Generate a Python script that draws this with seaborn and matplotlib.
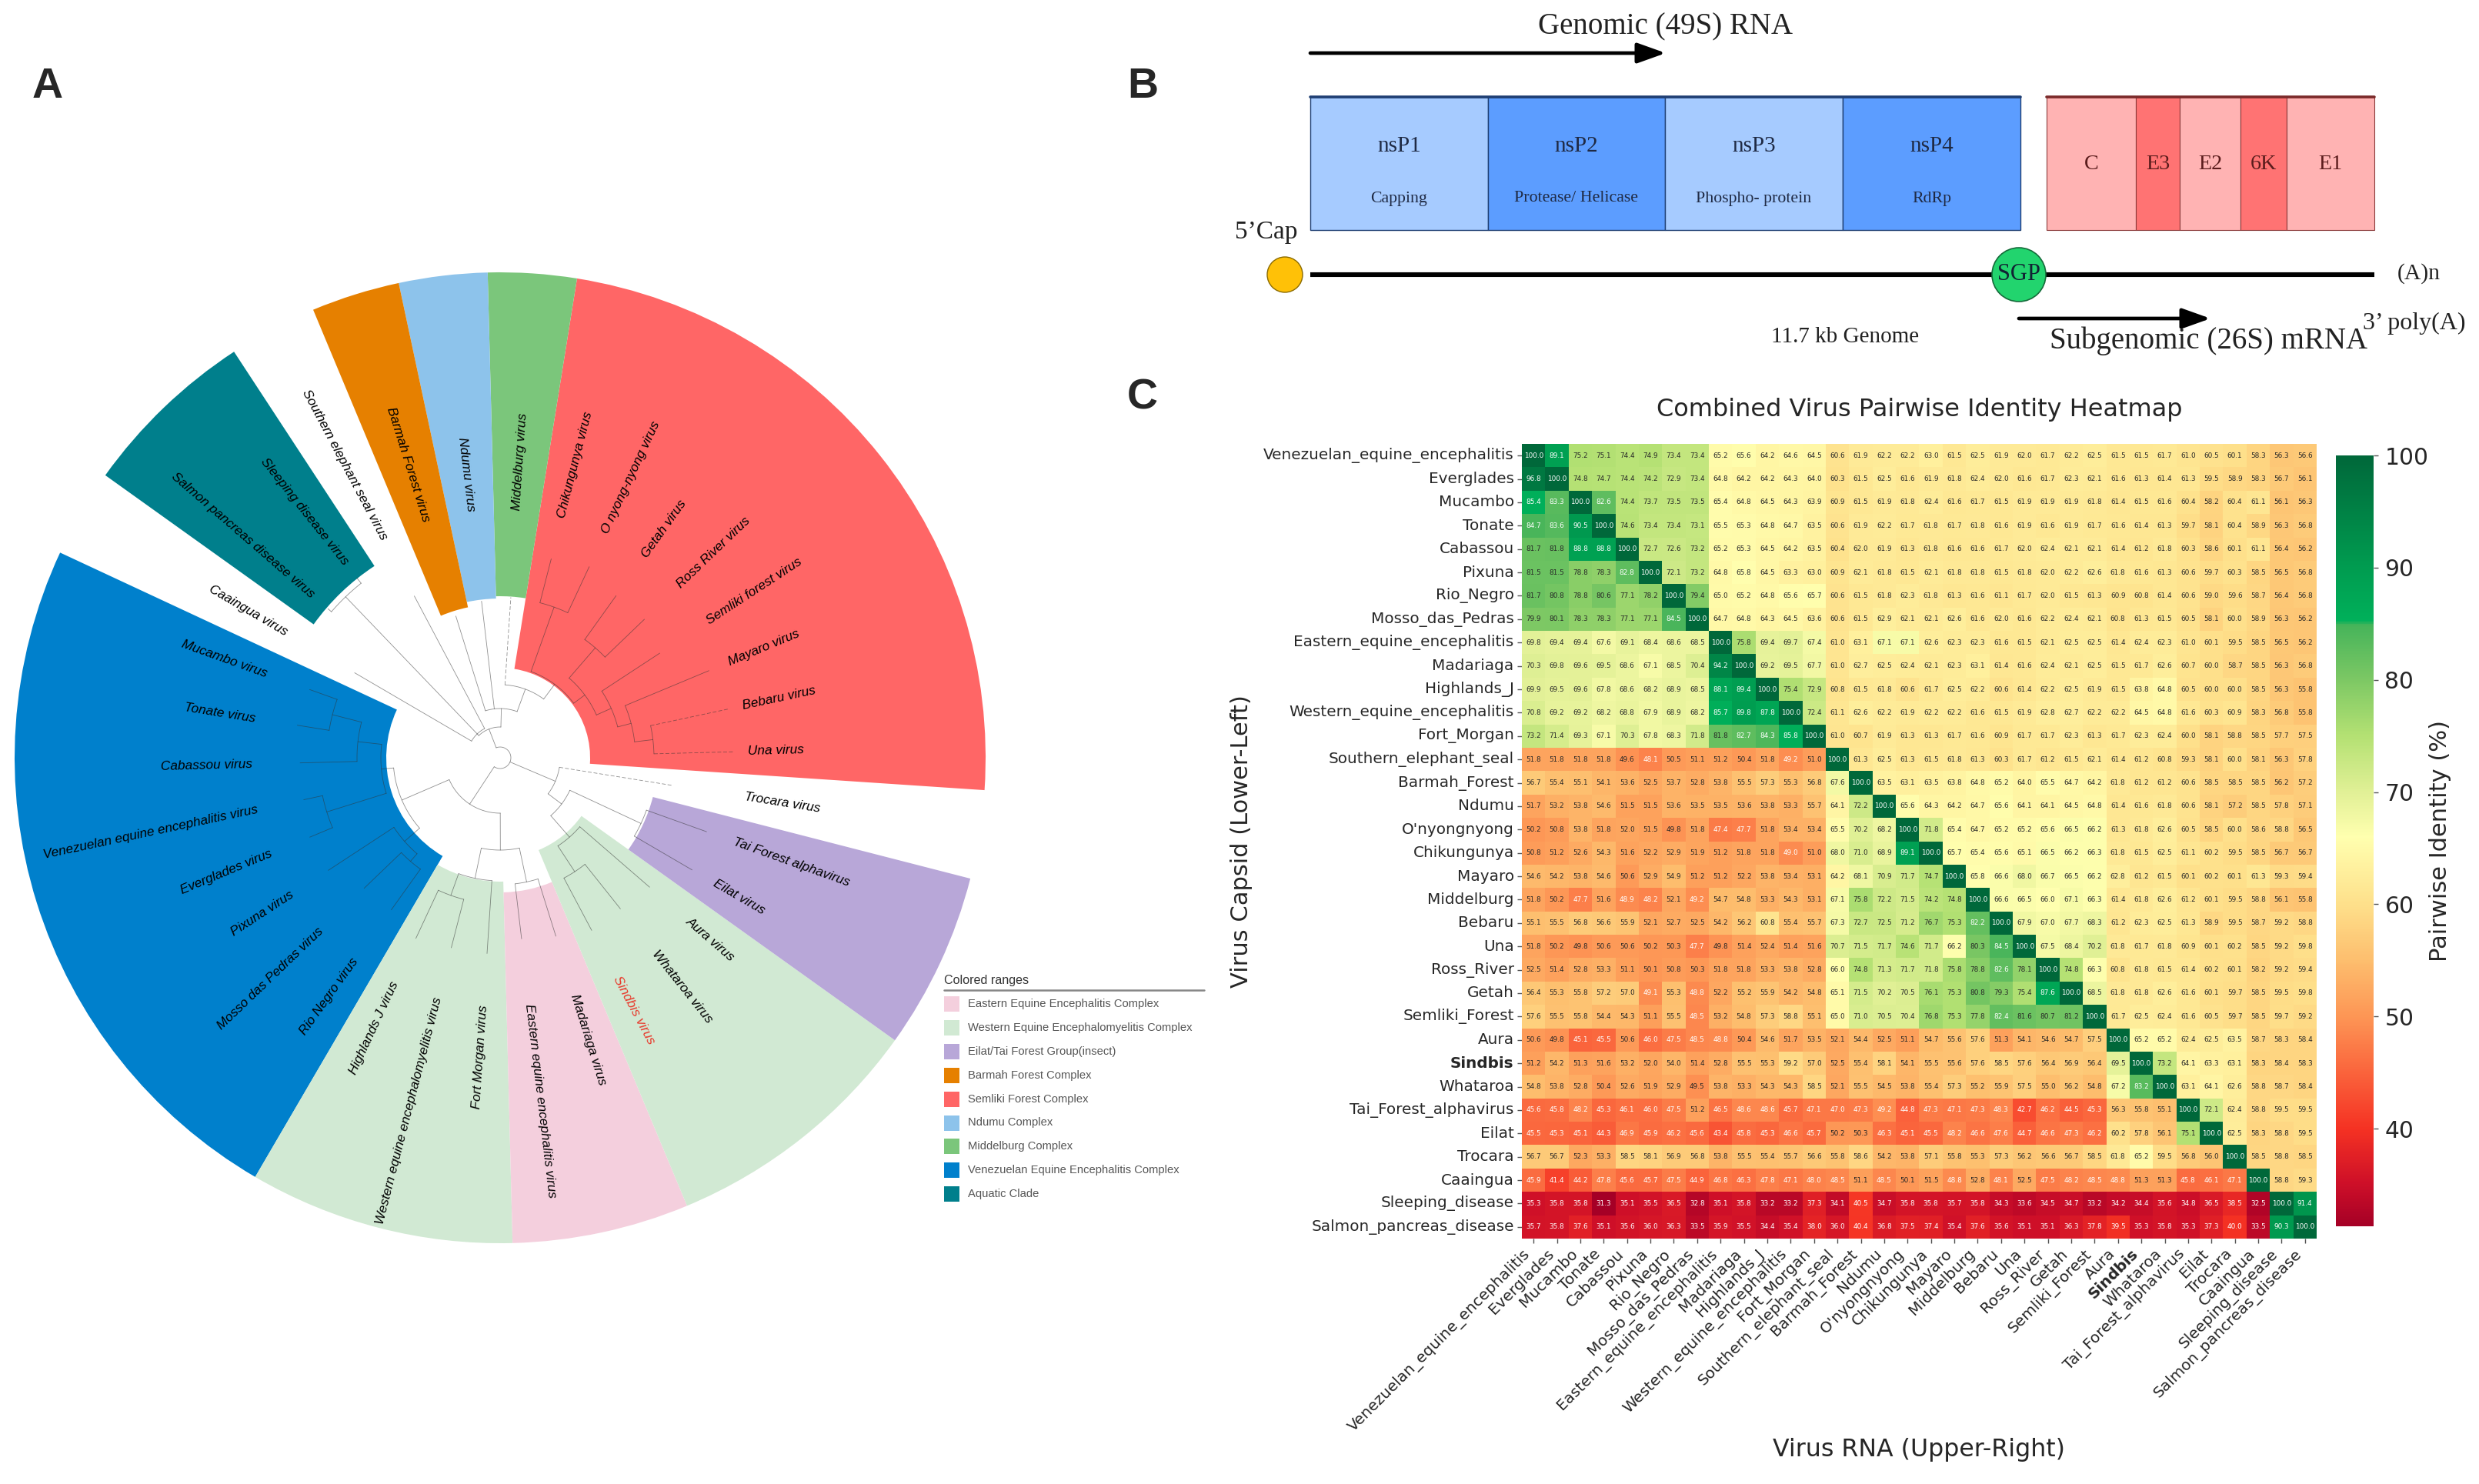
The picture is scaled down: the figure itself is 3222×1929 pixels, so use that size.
import matplotlib
matplotlib.use("Agg")
import matplotlib.pyplot as plt
import numpy as np
import seaborn as sns
from matplotlib.colors import LinearSegmentedColormap, Normalize
from matplotlib.patches import Circle, Rectangle

W, H = 3223, 1929
sns.set_theme(style="white")
plt.rcParams["font.family"] = ["DejaVu Sans"]
plt.rcParams["xtick.bottom"] = True
plt.rcParams["ytick.left"] = True

# ---- panel A data
leaf_names = ["Mucambo virus", "Tonate virus", "Cabassou virus", "Venezuelan equine encephalitis virus",
              "Everglades virus", "Pixuna virus", "Mosso das Pedras virus", "Rio Negro virus",
              "Highlands J virus", "Western equine encephalomyelitis virus", "Fort Morgan virus",
              "Eastern equine encephalitis virus", "Madariaga virus", "Sindbis virus", "Whataroa virus",
              "Aura virus", "Eilat virus", "Tai Forest alphavirus", "Trocara virus", "Una virus",
              "Bebaru virus", "Mayaro virus", "Semliki forest virus", "Ross River virus", "Getah virus",
              "O nyong-nyong virus", "Chikungunya virus", "Middelburg virus", "Ndumu virus",
              "Barmah Forest virus", "Southern elephant seal virus", "Sleeping disease virus",
              "Salmon pancreas disease virus", "Caaingua virus"]
leaf_tips = [263, 267, 260, 261, 268, 267, 245, 243, 259, 255, 255, 237, 243, 254, 251, 257, 289, 285,
             228, 304, 305, 294, 248, 260, 259, 274, 267, 209, 205, 193, 238, 299, 296, 219]
clade_labels = ["Eastern Equine Encephalitis Complex", "Western Equine Encephalomyelitis Complex",
                "Eilat/Tai Forest Group(insect)", "Barmah Forest Complex", "Semliki Forest Complex",
                "Ndumu Complex", "Middelburg Complex", "Venezuelan Equine Encephalitis Complex", "Aquatic Clade"]
clade_colors = ["#F4CFDD", "#D1E9D3", "#B8A7D8", "#E68000", "#FF6666", "#8DC3EB", "#7BC67B", "#0080CC", "#007F8C"]
# range: legend index, first leaf, leaf count, inner radius
range_clade = [7, 1, 0, 1, 2, 4, 6, 5, 3, 8]
range_first = [0, 8, 11, 13, 16, 19, 27, 28, 29, 31]
range_count = [8, 3, 2, 3, 2, 8, 1, 1, 1, 2]
range_inner = [148, 161, 175, 130, 205, 117, 210, 207, 200, 298]
dashed_tips = [18, 19, 20, 27]

blue = (139, [(155, [(186, [(225, [0, 1]), 2]), (236, [3, 4])]), (165, [5, (178, [6, 7])])])
lower_mid = (72, [blue, (120, [(160, [(190, [8, 9]), 10]), (165, [11, 12])])])
insect = (78, [(100, [(137, [(177, [13, 14]), 15]), (202, [16, 17])]), 18])
semliki = (119, [(137, [(158, [(176, [(200, [19, 20]), 21]), 22]), (189, [23, 24])]), (208, [25, 26])])
upper = (40, [(64, [(95, [semliki, 27]), 28, 29]), (43, [30, (290, [31, 32]), 33])])
tree = (14, [lower_mid, insect, upper])

# ---- panel B data
nonstructural = ["nsP1", "nsP2", "nsP3", "nsP4"]
nonstructural_roles = ["Capping", "Protease/ Helicase", "Phospho- protein", "RdRp"]
nonstructural_widths = [231, 230, 231, 231]
structural = ["C", "E3", "E2", "6K", "E1"]
structural_widths = [116, 57, 79, 60, 114]

# ---- panel C data
virus_labels = ["Venezuelan_equine_encephalitis", "Everglades", "Mucambo", "Tonate", "Cabassou", "Pixuna",
                "Rio_Negro", "Mosso_das_Pedras", "Eastern_equine_encephalitis", "Madariaga", "Highlands_J",
                "Western_equine_encephalitis", "Fort_Morgan", "Southern_elephant_seal", "Barmah_Forest", "Ndumu",
                "O'nyongnyong", "Chikungunya", "Mayaro", "Middelburg", "Bebaru", "Una", "Ross_River", "Getah",
                "Semliki_Forest", "Aura", "Sindbis", "Whataroa", "Tai_Forest_alphavirus", "Eilat", "Trocara",
                "Caaingua", "Sleeping_disease", "Salmon_pancreas_disease"]
identity = [
    [100, 89.1, 75.2, 75.1, 74.4, 74.9, 73.4, 73.4, 65.2, 65.6, 64.2, 64.6, 64.5, 60.6, 61.9, 62.2, 62.2, 63.0, 61.5, 62.5, 61.9, 62.0, 61.7, 62.2, 62.5, 61.5, 61.5, 61.7, 61.0, 60.5, 60.1, 58.3, 56.3, 56.6],
    [96.8, 100, 74.8, 74.7, 74.4, 74.2, 72.9, 73.4, 64.8, 64.2, 64.2, 64.3, 64.0, 60.3, 61.5, 62.5, 61.6, 61.9, 61.8, 62.4, 62.0, 61.6, 61.7, 62.3, 62.1, 61.6, 61.3, 61.4, 61.3, 59.5, 58.9, 58.3, 56.7, 56.1],
    [85.4, 83.3, 100, 82.6, 74.4, 73.7, 73.5, 73.5, 65.4, 64.8, 64.5, 64.3, 63.9, 60.9, 61.5, 61.9, 61.8, 62.4, 61.6, 61.7, 61.5, 61.9, 61.9, 61.9, 61.8, 61.4, 61.5, 61.6, 60.4, 58.2, 60.4, 61.1, 56.1, 56.3],
    [84.7, 83.6, 90.5, 100, 74.6, 73.4, 73.4, 73.1, 65.5, 65.3, 64.8, 64.7, 63.5, 60.6, 61.9, 62.2, 61.7, 61.8, 61.7, 61.8, 61.6, 61.9, 61.6, 61.9, 61.7, 61.6, 61.4, 61.3, 59.7, 58.1, 60.4, 58.9, 56.3, 56.8],
    [81.7, 81.8, 88.8, 88.8, 100, 72.7, 72.6, 73.2, 65.2, 65.3, 64.5, 64.2, 63.5, 60.4, 62.0, 61.9, 61.3, 61.8, 61.6, 61.6, 61.7, 62.0, 62.4, 62.1, 62.1, 61.4, 61.2, 61.8, 60.3, 58.6, 60.1, 61.1, 56.4, 56.2],
    [81.5, 81.5, 78.8, 78.3, 82.8, 100, 72.1, 73.2, 64.8, 65.8, 64.5, 63.3, 63.0, 60.9, 62.1, 61.8, 61.5, 62.1, 61.8, 61.8, 61.5, 61.8, 62.0, 62.2, 62.6, 61.8, 61.6, 61.3, 60.6, 59.7, 60.3, 58.5, 56.5, 56.8],
    [81.7, 80.8, 78.8, 80.6, 77.1, 78.2, 100, 79.4, 65.0, 65.2, 64.8, 65.6, 65.7, 60.6, 61.5, 61.8, 62.3, 61.8, 61.3, 61.6, 61.1, 61.7, 62.0, 61.5, 61.3, 60.9, 60.8, 61.4, 60.6, 59.0, 59.6, 58.7, 56.4, 56.8],
    [79.9, 80.1, 78.3, 78.3, 77.1, 77.1, 84.5, 100, 64.7, 64.8, 64.3, 64.5, 63.6, 60.6, 61.5, 62.9, 62.1, 62.1, 62.6, 61.6, 62.0, 61.6, 62.2, 62.4, 62.1, 60.8, 61.3, 61.5, 60.5, 58.1, 60.0, 58.9, 56.3, 56.2],
    [69.8, 69.4, 69.4, 67.6, 69.1, 68.4, 68.6, 68.5, 100, 75.8, 69.4, 69.7, 67.4, 61.0, 63.1, 67.1, 67.1, 62.6, 62.3, 62.3, 61.6, 61.5, 62.1, 62.5, 62.5, 61.4, 62.4, 62.3, 61.0, 60.1, 59.5, 58.5, 56.5, 56.2],
    [70.3, 69.8, 69.6, 69.5, 68.6, 67.1, 68.5, 70.4, 94.2, 100, 69.2, 69.5, 67.7, 61.0, 62.7, 62.5, 62.4, 62.1, 62.3, 63.1, 61.4, 61.6, 62.4, 62.1, 62.5, 61.5, 61.7, 62.6, 60.7, 60.0, 58.7, 58.5, 56.3, 56.8],
    [69.9, 69.5, 69.6, 67.8, 68.6, 68.2, 68.9, 68.5, 88.1, 89.4, 100, 75.4, 72.9, 60.8, 61.5, 61.8, 60.6, 61.7, 62.5, 62.2, 60.6, 61.4, 62.2, 62.5, 61.9, 61.5, 63.8, 64.8, 60.5, 60.0, 60.0, 58.5, 56.3, 55.8],
    [70.8, 69.2, 69.2, 68.2, 68.8, 67.9, 68.9, 68.2, 85.7, 89.8, 87.8, 100, 72.4, 61.1, 62.6, 62.2, 61.9, 62.2, 62.2, 61.6, 61.5, 61.9, 62.8, 62.7, 62.2, 62.2, 64.5, 64.8, 61.6, 60.3, 60.9, 58.3, 56.8, 55.8],
    [73.2, 71.4, 69.3, 67.1, 70.3, 67.8, 68.3, 71.8, 81.8, 82.7, 84.3, 85.8, 100, 61.0, 60.7, 61.9, 61.3, 61.3, 61.7, 61.6, 60.9, 61.7, 61.7, 62.3, 61.3, 61.7, 62.3, 62.4, 60.0, 58.1, 58.8, 58.5, 57.7, 57.5],
    [51.8, 51.8, 51.8, 51.8, 49.6, 48.1, 50.5, 51.1, 51.2, 50.4, 51.8, 49.2, 51.0, 100, 61.3, 62.5, 61.3, 61.5, 61.8, 61.3, 60.3, 61.7, 61.2, 61.5, 62.1, 61.4, 61.2, 60.8, 59.3, 58.1, 60.0, 58.1, 56.3, 57.8],
    [56.7, 55.4, 55.1, 54.1, 53.6, 52.5, 53.7, 52.8, 53.8, 55.5, 57.3, 55.3, 56.8, 67.6, 100, 63.5, 63.1, 63.5, 63.8, 64.8, 65.2, 64.0, 65.5, 64.7, 64.2, 61.8, 61.2, 61.2, 60.6, 58.5, 58.5, 58.5, 56.2, 57.2],
    [51.7, 53.2, 53.8, 54.6, 51.5, 51.5, 53.6, 53.5, 53.5, 53.6, 53.8, 53.3, 55.7, 64.1, 72.2, 100, 65.6, 64.3, 64.2, 64.7, 65.6, 64.1, 64.1, 64.5, 64.8, 61.4, 61.6, 61.8, 60.6, 58.1, 57.2, 58.5, 57.8, 57.1],
    [50.2, 50.8, 53.8, 51.8, 52.0, 51.5, 49.8, 51.8, 47.4, 47.7, 51.8, 53.4, 53.4, 65.5, 70.2, 68.2, 100, 71.8, 65.4, 64.7, 65.2, 65.2, 65.6, 66.5, 66.2, 61.3, 61.8, 62.6, 60.5, 58.5, 60.0, 58.6, 58.8, 56.5],
    [50.8, 51.2, 52.6, 54.3, 51.6, 52.2, 52.9, 51.9, 51.2, 51.8, 51.8, 49.0, 51.0, 68.0, 71.0, 68.9, 89.1, 100, 65.7, 65.4, 65.6, 65.1, 66.5, 66.2, 66.3, 61.8, 61.5, 62.5, 61.1, 60.2, 59.5, 58.5, 56.7, 56.7],
    [54.6, 54.2, 53.8, 54.6, 50.6, 52.9, 54.9, 51.2, 51.2, 52.2, 53.8, 53.4, 53.1, 64.2, 68.1, 70.9, 71.7, 74.7, 100, 65.8, 66.6, 68.0, 66.7, 66.5, 66.2, 62.8, 61.2, 61.5, 60.1, 60.2, 60.1, 61.3, 59.3, 59.4],
    [51.8, 50.2, 47.7, 51.6, 48.9, 48.2, 52.1, 49.2, 54.7, 54.8, 53.3, 54.3, 53.1, 67.1, 75.8, 72.2, 71.5, 74.2, 74.8, 100, 66.6, 66.5, 66.0, 67.1, 66.3, 61.4, 61.8, 62.6, 61.2, 60.1, 59.5, 58.8, 56.1, 55.8],
    [55.1, 55.5, 56.8, 56.6, 55.9, 52.1, 52.7, 52.5, 54.2, 56.2, 60.8, 55.4, 55.7, 67.3, 72.7, 72.5, 71.2, 76.7, 75.3, 82.2, 100, 67.9, 67.0, 67.7, 68.3, 61.2, 62.3, 62.5, 61.3, 58.9, 59.5, 58.7, 59.2, 58.8],
    [51.8, 50.2, 49.8, 50.6, 50.6, 50.2, 50.3, 47.7, 49.8, 51.4, 52.4, 51.4, 51.6, 70.7, 71.5, 71.7, 74.6, 71.7, 66.2, 80.3, 84.5, 100, 67.5, 68.4, 70.2, 61.8, 61.7, 61.8, 60.9, 60.1, 60.2, 58.5, 59.2, 59.8],
    [52.5, 51.4, 52.8, 53.3, 51.1, 50.1, 50.8, 50.3, 51.8, 51.8, 53.3, 53.8, 52.8, 66.0, 74.8, 71.3, 71.7, 71.8, 75.8, 78.8, 82.6, 78.1, 100, 74.8, 66.3, 60.8, 61.8, 61.5, 61.4, 60.2, 60.1, 58.2, 59.2, 59.4],
    [56.4, 55.3, 55.8, 57.2, 57.0, 49.1, 55.3, 48.8, 52.2, 55.2, 55.9, 54.2, 54.8, 65.1, 71.5, 70.2, 70.5, 76.1, 75.3, 80.8, 79.3, 75.4, 87.6, 100, 68.5, 61.8, 61.8, 62.6, 61.6, 60.1, 59.7, 58.5, 59.5, 59.8],
    [57.6, 55.5, 55.8, 54.4, 54.3, 51.1, 55.5, 48.5, 53.2, 54.8, 57.3, 58.8, 55.1, 65.0, 71.0, 70.5, 70.4, 76.8, 75.3, 77.8, 82.4, 81.6, 80.7, 81.2, 100, 61.7, 62.5, 62.4, 61.6, 60.5, 59.7, 58.5, 59.7, 59.2],
    [50.6, 49.8, 45.1, 45.5, 50.6, 46.0, 47.5, 48.5, 48.8, 50.4, 54.6, 51.7, 53.5, 52.1, 54.4, 52.5, 51.1, 54.7, 55.6, 57.6, 51.3, 54.1, 54.6, 54.7, 57.5, 100, 65.2, 65.2, 62.4, 62.5, 63.5, 58.7, 58.3, 58.4],
    [51.2, 54.2, 51.3, 51.6, 53.2, 52.0, 54.0, 51.4, 52.8, 55.5, 55.3, 59.2, 57.0, 52.5, 55.4, 58.1, 54.1, 55.5, 55.6, 57.6, 58.5, 57.6, 56.4, 56.9, 56.4, 69.5, 100, 73.2, 64.1, 63.3, 63.1, 58.3, 58.4, 58.3],
    [54.8, 53.8, 52.8, 50.4, 52.6, 51.9, 52.9, 49.5, 53.8, 53.3, 54.3, 54.3, 58.5, 52.1, 55.5, 54.5, 53.8, 55.4, 57.3, 55.2, 55.9, 57.5, 55.0, 56.2, 54.8, 67.2, 83.2, 100, 63.1, 64.1, 62.6, 58.8, 58.7, 58.4],
    [45.6, 45.8, 48.2, 45.3, 46.1, 46.0, 47.5, 51.2, 46.5, 48.6, 48.6, 45.7, 47.1, 47.0, 47.3, 49.2, 44.8, 47.3, 47.1, 47.3, 48.3, 42.7, 46.2, 44.5, 45.3, 56.3, 55.8, 55.1, 100, 72.1, 62.4, 58.8, 59.5, 59.5],
    [45.5, 45.3, 45.1, 44.3, 46.9, 45.9, 46.2, 45.6, 43.4, 45.8, 45.3, 46.6, 45.7, 50.2, 50.3, 46.3, 45.1, 45.5, 48.2, 46.6, 47.6, 44.7, 46.6, 47.3, 46.2, 60.2, 57.8, 56.1, 75.1, 100, 62.5, 58.3, 58.8, 59.5],
    [56.7, 56.7, 52.3, 53.3, 58.5, 58.1, 56.9, 56.8, 53.8, 55.5, 55.4, 55.7, 56.6, 55.8, 58.6, 54.2, 53.8, 57.1, 55.8, 55.3, 57.3, 56.2, 56.6, 56.7, 58.5, 61.8, 65.2, 59.5, 56.8, 56.0, 100, 58.5, 58.8, 58.5],
    [45.9, 41.4, 44.2, 47.8, 45.6, 45.7, 47.5, 44.9, 46.8, 46.3, 47.8, 47.1, 48.0, 48.5, 51.1, 48.5, 50.1, 51.5, 48.8, 52.8, 48.1, 52.5, 47.5, 48.2, 48.5, 48.8, 51.3, 51.3, 45.8, 46.1, 47.1, 100, 58.8, 59.3],
    [35.3, 35.8, 35.8, 31.3, 35.1, 35.5, 36.5, 32.8, 35.1, 35.8, 33.2, 33.2, 37.3, 34.1, 40.5, 34.7, 35.8, 35.8, 35.7, 35.8, 34.3, 33.6, 34.5, 34.7, 33.2, 34.2, 34.4, 35.6, 34.8, 36.5, 38.5, 32.5, 100, 91.4],
    [35.7, 35.8, 37.6, 35.1, 35.6, 36.0, 36.3, 33.5, 35.9, 35.5, 34.4, 35.4, 38.0, 36.0, 40.4, 36.8, 37.5, 37.4, 35.4, 37.6, 35.6, 35.1, 35.1, 36.3, 37.8, 39.5, 35.3, 35.8, 35.3, 37.3, 40.0, 33.5, 90.3, 100],
]
cmap_values = [31.3, 35, 40, 45, 50, 55, 60, 66, 70, 75, 80, 84.9, 85.3, 90, 100]
cmap_colors = ["#A50026", "#CD0F28", "#F53223", "#FA643C", "#FD9655", "#FDBE6E", "#FEE08B", "#FFFFAF", "#E1F096",
               "#B4E173", "#7DC864", "#46B45A", "#00B05A", "#009C50", "#00683A"]


def rect(x0, y0, x1, y1):
    return [x0 / W, 1 - y1 / H, (x1 - x0) / W, (y1 - y0) / H]


fig = plt.figure(figsize=(W / 200, H / 200), dpi=200)
canvas = fig.add_axes([0, 0, 1, 1])
canvas.set_xlim(0, W)
canvas.set_ylim(H, 0)
canvas.axis("off")

for letter, x, y in zip("ABC", [62, 1485, 1485], [113, 113, 518]):
    canvas.text(x, y, letter, fontsize=20, fontweight="bold", family="Liberation Sans", ha="center", va="center")

# ---- panel A: circular tree
cx, cy, span = 650, 985, 660
polar = fig.add_axes(rect(cx - span, cy - span, cx + span, cy + span), projection="polar")
polar.set_ylim(0, span)
polar.axis("off")
step = 360 / len(leaf_names)
start = 155
outer = 631
for clade, first, count, inner in zip(range_clade, range_first, range_count, range_inner):
    polar.bar(np.radians(start + first * step), outer - inner, width=np.radians(count * step), bottom=inner,
              align="edge", color=clade_colors[clade], linewidth=0)


def leaf_angle(i):
    return start + (i + 0.5) * step


def draw_branch(node, base):
    if isinstance(node, int):
        ls = (0, (6, 3)) if node in dashed_tips else "-"
        t = np.radians(leaf_angle(node))
        polar.plot([t, t], [base, leaf_tips[node]], color="#333333", lw=0.3, alpha=0.55, ls=ls)
        return leaf_angle(node)
    r, kids = node
    angles = [draw_branch(k, r) for k in kids]
    arc = np.radians(np.linspace(min(angles), max(angles), 40))
    polar.plot(arc, np.full(arc.size, r), color="#333333", lw=0.3, alpha=0.55)
    mid = (min(angles) + max(angles)) / 2
    if base is not None:
        polar.plot(np.radians([mid, mid]), [base, r], color="#333333", lw=0.3, alpha=0.55)
    return mid


draw_branch(tree, None)
for i, name in enumerate(leaf_names):
    deg = leaf_angle(i) % 360
    right = deg < 90 or deg > 270
    polar.text(np.radians(deg), 322, name, rotation=deg if right else deg + 180, rotation_mode="anchor",
               ha="left" if right else "right", va="center", fontsize=6.2, family="Liberation Sans",
               style="italic", color="#E8382A" if name == "Sindbis virus" else "black")

canvas.text(1227, 1274, "Colored ranges", fontsize=5.8, family="Liberation Sans", color="#333333", va="center")
canvas.plot([1227, 1565], [1287, 1287], color="#888888", lw=0.9)
for i, (label, color) in enumerate(zip(clade_labels, clade_colors)):
    y = 1305 + i * 30.9
    canvas.add_patch(Rectangle((1227, y - 10), 20, 20, color=color, lw=0))
    canvas.text(1258, y, label, fontsize=5.3, family="Liberation Sans", color="#555555", va="center")

# ---- panel B: genome schematic
serif = "Liberation Serif"
box_top, box_h, left = 126, 173, 1703
dark_text = "#1F2A44"
for i, (name, role, width) in enumerate(zip(nonstructural, nonstructural_roles, nonstructural_widths)):
    canvas.bar(left, box_h, width, bottom=box_top, align="edge", color="#A6CBFF" if i % 2 == 0 else "#5C9DFF",
               edgecolor="#1F3F73", linewidth=0.5)
    canvas.text(left + width / 2, 190, name, family=serif, fontsize=10.5, color=dark_text, ha="center", va="center")
    canvas.text(left + width / 2, 258, role, family=serif, fontsize=7.9, color=dark_text, ha="center", va="center")
    left += width
canvas.plot([1703, 2626], [box_top, box_top], color="#1F3F73", lw=1.3)
left = 2660
for i, (name, width) in enumerate(zip(structural, structural_widths)):
    canvas.bar(left, box_h, width, bottom=box_top, align="edge", color="#FFB3B3" if i % 2 == 0 else "#FF7373",
               edgecolor="#8A3A3A", linewidth=0.4)
    canvas.text(left + width / 2, 213, name, family=serif, fontsize=10.2, color="#5A1C1C", ha="center", va="center")
    left += width
canvas.plot([2660, 3086], [box_top, box_top], color="#7A2A2A", lw=1.3)
canvas.plot([1703, 3086], [357, 357], color="black", lw=2.2, solid_capstyle="butt")
canvas.add_patch(Circle((1670, 357), 23, facecolor="#FFC107", edgecolor="#8A6A00", lw=0.5, zorder=3))
canvas.add_patch(Circle((2624, 357), 35, facecolor="#22D46E", edgecolor="#156B3A", lw=0.6, zorder=3))
canvas.text(2624, 357, "SGP", family=serif, fontsize=11, ha="center", va="center", color="#123", zorder=4)
for x0, x1, y in [(1703, 2165, 69), (2624, 2873, 414)]:
    canvas.annotate("", xy=(x1, y), xytext=(x0, y),
                    arrowprops=dict(arrowstyle="-|>,head_length=0.56,head_width=0.2", mutation_scale=20,
                                    color="black", lw=1.7, shrinkA=0, shrinkB=0))
notes = [("Genomic (49S) RNA", 2165, 35, 14), ("Subgenomic (26S) mRNA", 2871, 443, 14), ("5\u2019Cap", 1646, 302, 12),
         ("(A)n", 3144, 356, 10.7), ("3\u2019 poly(A)", 3138, 420, 11.5), ("11.7 kb Genome", 2398, 438, 10.5)]
for text, x, y, size in notes:
    canvas.text(x, y, text, family=serif, fontsize=size, ha="center", va="center", color="#222222")

# ---- panel C: heatmap
heat_ax = fig.add_axes(rect(1978, 577, 3011, 1610))
bar_ax = fig.add_axes(rect(3036, 592, 3085, 1594))
vmin, vmax = cmap_values[0], cmap_values[-1]
cmap = LinearSegmentedColormap.from_list(
    "identity", [((v - vmin) / (vmax - vmin), c) for v, c in zip(cmap_values, cmap_colors)], N=512)
sns.heatmap(np.array(identity), ax=heat_ax, cbar_ax=bar_ax, cmap=cmap, norm=Normalize(vmin, vmax),
            annot=True, fmt=".1f", annot_kws={"size": 3.2}, xticklabels=virus_labels, yticklabels=virus_labels,
            cbar_kws={"label": "Pairwise Identity (%)", "ticks": [40, 50, 60, 70, 80, 90, 100]})
heat_ax.tick_params(axis="both", length=2.2, width=0.5, color="#555555", labelsize=7.2, pad=1.5)
heat_ax.set_xticklabels(virus_labels, rotation=45, ha="right", fontsize=7.2)
heat_ax.set_yticklabels(virus_labels, rotation=0, fontsize=7.2)
for tick in heat_ax.get_xticklabels() + heat_ax.get_yticklabels():
    if tick.get_text() == "Sindbis":
        tick.set_fontweight("bold")
heat_ax.set_title("Combined Virus Pairwise Identity Heatmap", fontsize=11.5, pad=13)
heat_ax.set_xlabel("Virus RNA (Upper-Right)", fontsize=11.4, va="center")
heat_ax.set_ylabel("Virus Capsid (Lower-Left)", fontsize=11, va="center")
heat_ax.xaxis.set_label_coords(0.5, (1610 - 1885) / 1033)
heat_ax.yaxis.set_label_coords((1614 - 1978) / 1033, 0.5)
bar_ax.tick_params(axis="y", length=2.2, width=0.5, color="#555555", labelsize=10.7, pad=3)
bar_ax.yaxis.label.set_size(11)
bar_ax.yaxis.set_label_coords((3172 - 3036) / 49, 0.5)
bar_ax.yaxis.label.set_va("center")

fig.savefig("out.png", dpi=200)
plt.close(fig)
